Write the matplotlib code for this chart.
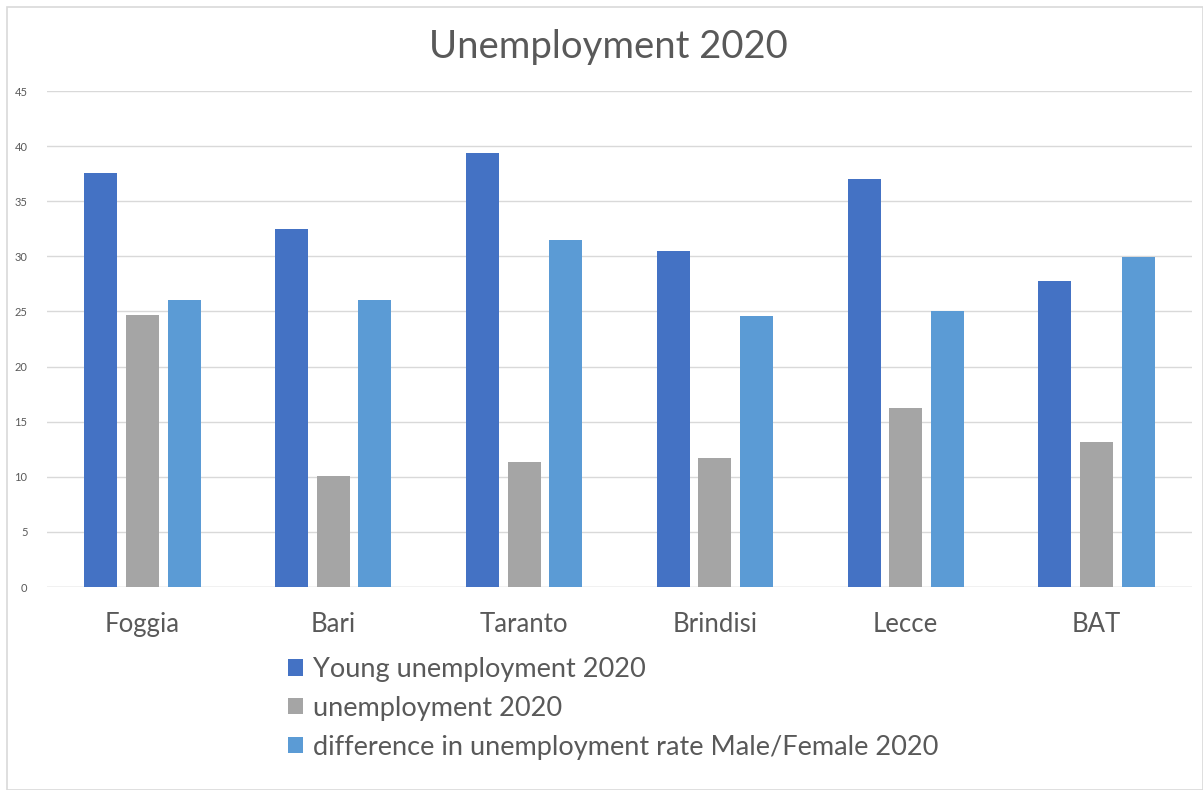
import matplotlib
matplotlib.use("Agg")
import matplotlib.pyplot as plt
import numpy as np
from matplotlib.patches import Rectangle

categories = ["Foggia", "Bari", "Taranto", "Brindisi", "Lecce", "BAT"]
young = [37.6, 32.5, 39.4, 30.5, 37.0, 27.8]
unemp = [24.7, 10.1, 11.3, 11.7, 16.2, 13.2]
diff = [26.0, 26.0, 31.5, 24.6, 25.0, 29.9]
series_names = ["Young unemployment 2020", "unemployment 2020",
                "difference in unemployment rate Male/Female 2020"]
colors = ["#4472C4", "#A5A5A5", "#5B9BD5"]
yticks = list(range(0, 50, 5))

plt.rcParams['font.family'] = ['Lato', 'DejaVu Sans']

fig = plt.figure(figsize=(12.03, 7.90), dpi=100)
ax = fig.add_axes([47/1203, 1 - 587/790, (1192-47)/1203, (587-91)/790])

x = np.arange(len(categories))
w = 0.173
step = 0.218
handles = []
for i, (vals, name, c) in enumerate(zip([young, unemp, diff], series_names, colors)):
    h = ax.bar(x + (i - 1) * step, vals, width=w, color=c, label=name, zorder=3)
    handles.append(h)

ax.set_xlim(-0.5, len(categories) - 0.5)
ax.set_ylim(0, 45)
ax.set_yticks(yticks)
ax.set_yticklabels([str(t) for t in yticks], fontsize=8, color="#595959")
ax.set_xticks(x)
ax.set_xticklabels(categories, fontsize=18.5, color="#595959")
ax.tick_params(axis='y', length=0, pad=14)
ax.tick_params(axis='x', length=0, pad=18)
ax.grid(axis='y', color="#D9D9D9", linewidth=1, zorder=0)
for s in ax.spines.values():
    s.set_visible(False)
ax.axhline(0, color="#D9D9D9", linewidth=1, zorder=2)

fig.text(608/1203, 1 - 47/790, "Unemployment 2020", ha='center', va='center',
         fontsize=27.5, color="#595959")

leg = fig.legend(handles=handles, labels=series_names, loc='upper left',
                 bbox_to_anchor=(288/1203, 1 - 657/790), frameon=False,
                 borderpad=0, borderaxespad=0,
                 fontsize=19.5, labelcolor="#595959", handlelength=0.55,
                 handleheight=0.55, handletextpad=0.37, labelspacing=0.51)

fig.patches.append(Rectangle((7/1203, 0), 1 - 7/1203, 1 - 7/790,
                             transform=fig.transFigure, fill=False,
                             edgecolor="#D9D9D9", linewidth=1.2))

fig.savefig("out.png", dpi=100, facecolor="white")
